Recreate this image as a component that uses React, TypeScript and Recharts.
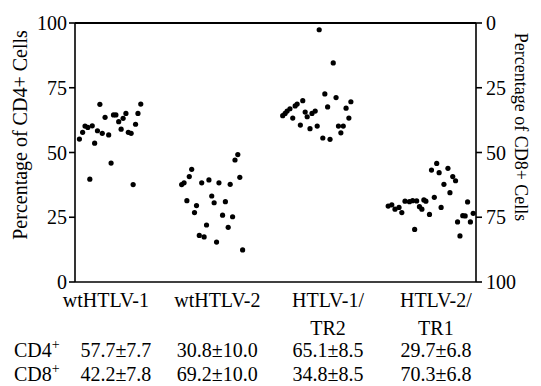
import React from "react";
import { ScatterChart, Scatter, XAxis, YAxis } from "recharts";

// categories and table rows under the axis
const groups = ["wtHTLV-1", "wtHTLV-2", "HTLV-1/\nTR2", "HTLV-2/\nTR1"];
const groupTicks = [7.7, 35.5, 63.1, 90.0];
const cd4Stats = ["57.7±7.7", "30.8±10.0", "65.1±8.5", "29.7±6.8"];
const cd8Stats = ["42.2±7.8", "69.2±10.0", "34.8±8.5", "70.3±6.8"];
const pctTicks = [0, 25, 50, 75, 100];

// per-sample %CD4+ values; x is the horizontal jitter inside each group (0-100 scale)
const wt1X = [1.1, 1.9, 2.5, 3.2, 4.3, 3.7, 4.9, 5.6, 6.2, 6.8, 7.5, 8.4, 9.0, 9.6, 10.2, 10.9, 11.5, 12.0, 12.7, 13.3, 14.0, 14.5, 15.1, 15.7, 16.4];
const wt1Y = [55.2, 57.8, 60.2, 59.7, 60.3, 39.7, 53.6, 58.4, 68.6, 57.4, 63.6, 56.8, 45.9, 64.5, 64.5, 61.9, 59.0, 63.2, 65.1, 57.8, 57.4, 37.6, 60.9, 65.1, 68.7];

const wt2X = [26.6, 27.2, 28.5, 29.1, 27.9, 30.3, 29.8, 31.6, 33.4, 34.1, 34.7, 35.9, 32.8, 31.0, 32.2, 35.3, 36.8, 37.5, 38.2, 38.7, 39.3, 39.9, 40.6, 41.1, 41.8];
const wt2Y = [37.6, 38.3, 40.7, 43.5, 31.4, 29.5, 26.8, 38.3, 39.4, 33.2, 30.6, 38.3, 22.0, 18.0, 17.4, 15.4, 25.8, 31.0, 21.1, 37.7, 25.2, 47.1, 49.2, 40.4, 12.4];

const tr2X = [51.8, 52.4, 52.9, 53.6, 54.3, 54.9, 55.4, 56.2, 56.8, 57.4, 57.9, 58.6, 59.1, 59.9, 60.4, 60.9, 61.8, 62.3, 63.0, 63.6, 64.4, 65.1, 65.7, 66.3, 66.9, 67.6, 68.3, 68.8];
const tr2Y = [64.2, 65.1, 66.0, 66.9, 63.3, 68.0, 68.7, 60.6, 70.0, 65.6, 63.8, 59.2, 65.1, 66.0, 60.2, 97.4, 55.6, 72.6, 67.6, 55.1, 84.6, 71.2, 60.2, 57.6, 60.2, 67.1, 63.3, 69.6];

const tr1X = [78.1, 79.0, 79.8, 80.8, 81.5, 82.3, 83.4, 84.2, 84.7, 85.2, 85.9, 86.5, 87.0, 87.5, 88.4, 88.9, 89.6, 90.2, 90.8, 91.3, 92.0, 93.0, 93.5, 94.2, 94.9, 95.4, 96.0, 96.7, 97.3, 97.9, 98.6, 99.3];
const tr1Y = [29.3, 29.8, 28.1, 28.8, 26.8, 31.2, 31.0, 31.4, 20.3, 31.3, 29.1, 28.1, 31.7, 31.2, 26.1, 43.2, 32.7, 45.8, 42.2, 28.8, 37.7, 43.9, 34.5, 40.7, 39.1, 23.2, 17.8, 25.6, 25.5, 30.9, 23.2, 26.5];

const toPoints = (xs: number[], ys: number[]) => xs.map((x, i) => ({ x, y: ys[i] }));
const cd4Points = [
  ...toPoints(wt1X, wt1Y),
  ...toPoints(wt2X, wt2Y),
  ...toPoints(tr2X, tr2Y),
  ...toPoints(tr1X, tr1Y),
];
// CD8+ share is the complement, read on the reversed right axis
const cd8Points = cd4Points.map((p) => ({ x: p.x, y: 100 - p.y }));

const FONT = "'Liberation Serif', 'Times New Roman', serif";
const W = 541;
const H = 386;
const TOP = 23;
const LEFT_W = 75;
const RIGHT_W = 65;

const Dot = (p: any) => <circle cx={p.cx} cy={p.cy} r={2.6} fill="#000" />;
const NoDot = () => <g />;

const GroupTick = (props: any) => {
  const { x, y, index } = props;
  const lines = groups[index].split("\n");
  const sx = x + (index === 0 ? 10 : 0);
  return (
    <g fontFamily={FONT} fontSize={20} fill="#000">
      {lines.map((l, k) => (
        <text key={k} x={x} y={y + 25 + k * 28} textAnchor="middle">{l}</text>
      ))}
      <text x={sx} y={y + 75} textAnchor="middle">{cd4Stats[index]}</text>
      <text x={sx} y={y + 99} textAnchor="middle">{cd8Stats[index]}</text>
      {index === 0 && (
        <>
          {/* frame line across the top of the plot */}
          <rect x={LEFT_W} y={TOP - 1} width={W - RIGHT_W - LEFT_W} height={2} fill="#000" />
          <text x={14} y={y + 75}>CD4<tspan fontSize={14} dy={-8}>+</tspan></text>
          <text x={14} y={y + 99}>CD8<tspan fontSize={14} dy={-8}>+</tspan></text>
        </>
      )}
    </g>
  );
};

const LeftTitle = () => (
  <text x={20} y={135} transform="rotate(-90 20 135)" textAnchor="middle" dominantBaseline="central"
    fontFamily={FONT} fontSize={20} fill="#000">Percentage of CD4+ Cells</text>
);

const RightTitle = () => (
  <text x={521} y={127} transform="rotate(90 521 127)" textAnchor="middle" dominantBaseline="central"
    fontFamily={FONT} fontSize={18} fill="#000">Percentage of CD8+ Cells</text>
);

const tickStyle = { fontFamily: FONT, fontSize: 20, fill: "#000" };
const lineStyle = { stroke: "#000", strokeWidth: 1.6 };

export default function App() {
  return (
    <div style={{ position: "absolute", left: 0, top: 0, width: W, height: H, background: "#fff" }}>
      <ScatterChart width={W} height={H} margin={{ top: TOP, right: 0, bottom: 0, left: 0 }}>
        <XAxis type="number" dataKey="x" domain={[0, 100]} ticks={groupTicks} interval={0}
          tick={<GroupTick />} tickLine={false} tickSize={0} tickMargin={0} height={104}
          axisLine={lineStyle} />
        <YAxis yAxisId="cd4" type="number" dataKey="y" domain={[0, 100]} ticks={pctTicks}
          width={LEFT_W} tick={tickStyle} tickLine={lineStyle} axisLine={lineStyle} tickSize={6} tickMargin={2}
          label={<LeftTitle />} />
        <YAxis yAxisId="cd8" orientation="right" type="number" dataKey="y" domain={[0, 100]} ticks={pctTicks} reversed
          width={RIGHT_W} tick={tickStyle} tickLine={lineStyle} axisLine={lineStyle} tickSize={6} tickMargin={4}
          label={<RightTitle />} />
        <Scatter yAxisId="cd8" data={cd8Points} shape={<NoDot />} isAnimationActive={false} />
        <Scatter yAxisId="cd4" data={cd4Points} fill="#000" shape={<Dot />} isAnimationActive={false} />
      </ScatterChart>
    </div>
  );
}
